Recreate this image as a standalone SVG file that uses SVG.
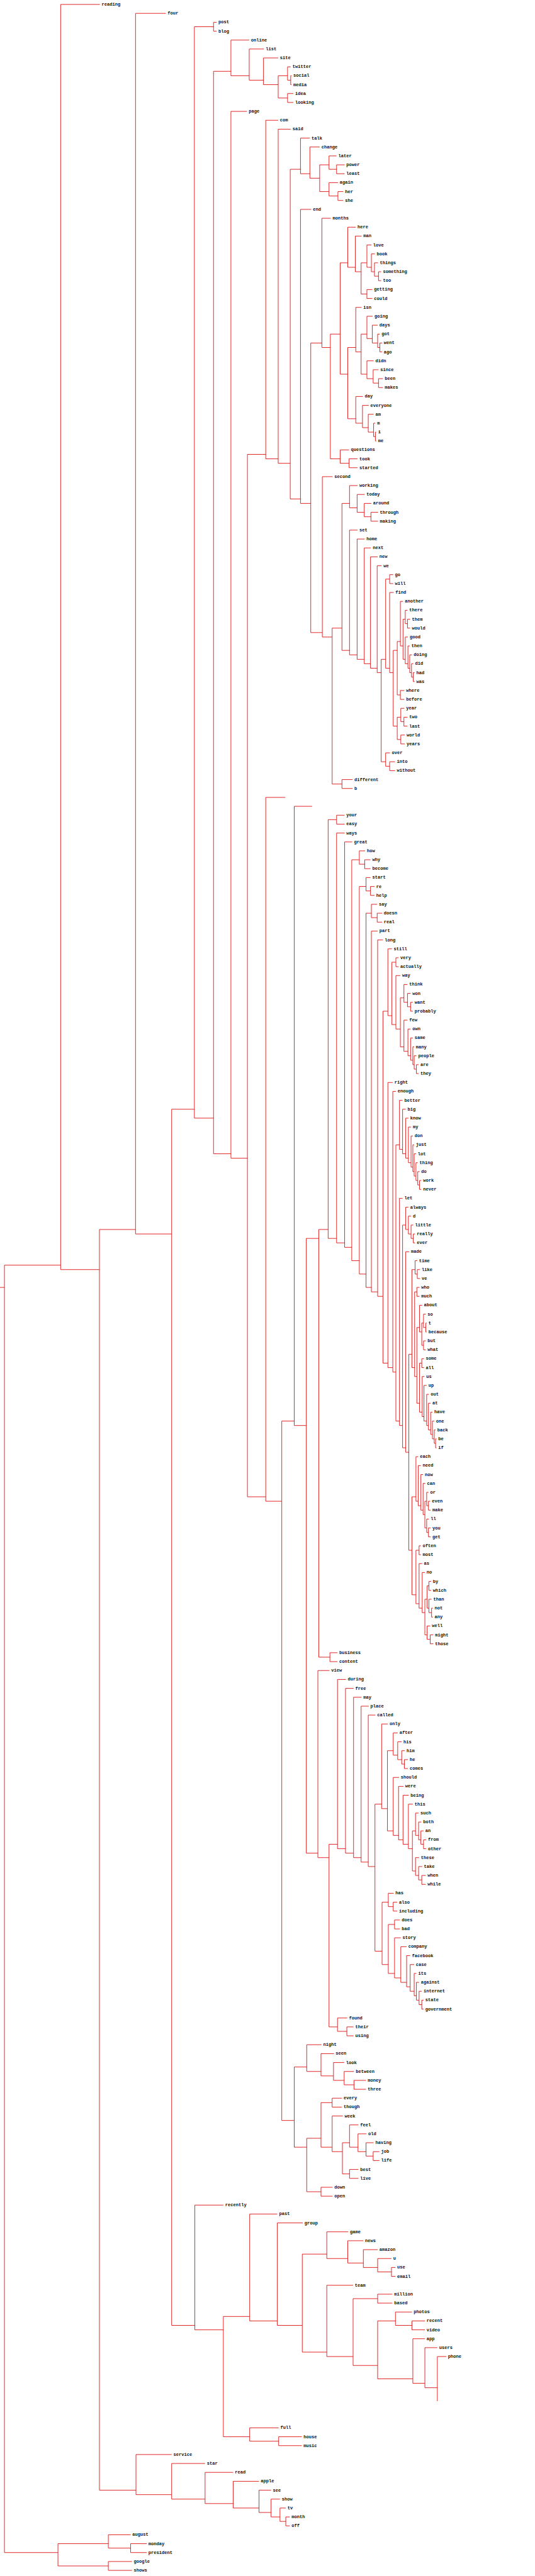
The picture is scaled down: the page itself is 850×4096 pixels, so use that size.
<svg xmlns="http://www.w3.org/2000/svg" width="850" height="4096" viewBox="0 0 850 4096">
<style>
text{font-family:"Liberation Mono","DejaVu Sans Mono",monospace;font-size:10px;font-weight:bold;fill:#111;dominant-baseline:central}
.c path{fill:none;stroke:#dd0000;stroke-width:1.2}
</style>
<rect width="850" height="4096" fill="#fff"/>
<g transform="scale(0.708333)">
<g id="connectors" class="c">
<path d="M0,2890H10"/>
<path d="M136,2840H10V5730H130"/>
<path d="M224,10H136V2850H223"/>
<path d="M304,2760H223V5590H305"/>
<path d="M372,30H304V2770H385"/>
<path d="M436,2490H385V5220H437"/>
<path d="M479,60H436V2510H479"/>
<path d="M518,160H479V2590H518"/>
<path d="M554,250H518V2600H555"/>
<path d="M596,1020H555V3360H596"/>
<path d="M640,1790H596V3370H632"/>
<path d="M660,3190H632V4760H660"/>
<path d="M700,1810H660V3200H687"/>
<path d="M715,2780H687V4160H713"/>
<path d="M736,2760H715V3720H740"/>
<path d="M688,4640H660V4820H688"/>
<path d="M486,50H479V70H486"/>
<path d="M654,170H652V190H654"/>
<path d="M652,150H645V180H652"/>
<path d="M658,210H645V230H658"/>
<path d="M645,170H624V220H645"/>
<path d="M624,130H591V190H624"/>
<path d="M592,110H559V180H591"/>
<path d="M559,90H518V170H559"/>
<path d="M773,370H755V390H773"/>
<path d="M755,350H738V380H755"/>
<path d="M770,430H758V450H770"/>
<path d="M758,410H738V440H758"/>
<path d="M738,370H717V430H738"/>
<path d="M717,330H695V400H717"/>
<path d="M695,310H674V390H695"/>
<path d="M855,610H849V630H855"/>
<path d="M848,590H840V620H849"/>
<path d="M841,570H833V610H840"/>
<path d="M833,550H823V600H833"/>
<path d="M835,650H823V670H835"/>
<path d="M823,590H810V660H823"/>
<path d="M811,530H797V610H810"/>
<path d="M798,510H780V600H797"/>
<path d="M857,770H852V790H857"/>
<path d="M852,750H847V780H852"/>
<path d="M847,730H835V770H847"/>
<path d="M836,710H823V760H835"/>
<path d="M859,850H849V870H859"/>
<path d="M849,830H837V860H849"/>
<path d="M838,810H823V850H837"/>
<path d="M823,750H810V840H823"/>
<path d="M811,690H798V790H810"/>
<path d="M844,970H842V990H844"/>
<path d="M842,950H838V980H842"/>
<path d="M838,930H826V970H838"/>
<path d="M827,910H813V960H826"/>
<path d="M814,890H798V950H813"/>
<path d="M798,780H780V940H798"/>
<path d="M780,590H763V840H780"/>
<path d="M802,1030H783V1050H802"/>
<path d="M783,1010H763V1040H783"/>
<path d="M763,750H741V1030H763"/>
<path d="M742,490H722V780H741"/>
<path d="M848,1150H832V1170H848"/>
<path d="M833,1130H817V1160H832"/>
<path d="M818,1110H801V1150H817"/>
<path d="M802,1090H784V1140H801"/>
<path d="M882,1290H874V1310H882"/>
<path d="M920,1390H914V1410H920"/>
<path d="M914,1370H909V1400H914"/>
<path d="M930,1510H927V1530H930"/>
<path d="M927,1490H923V1520H927"/>
<path d="M924,1470H919V1510H923"/>
<path d="M919,1450H915V1500H919"/>
<path d="M915,1430H909V1490H915"/>
<path d="M909,1390H904V1480H909"/>
<path d="M904,1350H898V1450H904"/>
<path d="M907,1550H898V1570H907"/>
<path d="M898,1440H891V1560H898"/>
<path d="M914,1610H906V1630H914"/>
<path d="M907,1590H899V1620H906"/>
<path d="M908,1650H899V1670H908"/>
<path d="M899,1610H891V1660H899"/>
<path d="M891,1460H882V1630H891"/>
<path d="M883,1330H874V1510H882"/>
<path d="M874,1300H865V1500H874"/>
<path d="M886,1710H874V1730H886"/>
<path d="M875,1690H865V1720H874"/>
<path d="M865,1480H855V1710H865"/>
<path d="M856,1270H846V1510H855"/>
<path d="M847,1250H831V1500H846"/>
<path d="M832,1230H817V1490H831"/>
<path d="M818,1210H801V1480H817"/>
<path d="M802,1190H784V1470H801"/>
<path d="M784,1130H767V1460H784"/>
<path d="M791,1750H767V1770H791"/>
<path d="M767,1410H745V1760H767"/>
<path d="M746,1070H723V1430H745"/>
<path d="M722,770H697V1420H723"/>
<path d="M698,470H674V1130H697"/>
<path d="M674,380H651V1120H674"/>
<path d="M652,290H624V1040H651"/>
<path d="M624,270H596V1030H624"/>
<path d="M773,1830H755V1850H773"/>
<path d="M831,1930H818V1950H831"/>
<path d="M819,1910H806V1940H818"/>
<path d="M840,1990H831V2010H840"/>
<path d="M831,1970H821V2000H831"/>
<path d="M857,2050H846V2070H857"/>
<path d="M846,2030H833V2060H846"/>
<path d="M894,2150H888V2170H894"/>
<path d="M926,2250H921V2270H926"/>
<path d="M921,2230H914V2260H921"/>
<path d="M914,2210H906V2250H914"/>
<path d="M939,2390H934V2410H939"/>
<path d="M934,2370H929V2400H934"/>
<path d="M929,2350H926V2390H929"/>
<path d="M926,2330H921V2380H926"/>
<path d="M921,2310H915V2370H921"/>
<path d="M914,2290H906V2360H915"/>
<path d="M906,2240H898V2350H906"/>
<path d="M898,2190H888V2310H898"/>
<path d="M888,2160H879V2300H888"/>
<path d="M879,2130H870V2280H879"/>
<path d="M945,2650H941V2670H945"/>
<path d="M941,2630H937V2660H941"/>
<path d="M937,2610H933V2650H937"/>
<path d="M933,2590H929V2640H933"/>
<path d="M929,2570H926V2630H929"/>
<path d="M926,2550H922V2620H926"/>
<path d="M922,2530H916V2610H922"/>
<path d="M916,2510H910V2600H916"/>
<path d="M910,2490H903V2590H910"/>
<path d="M903,2470H896V2580H903"/>
<path d="M931,2770H927V2790H931"/>
<path d="M927,2750H922V2780H927"/>
<path d="M922,2730H916V2770H922"/>
<path d="M916,2710H910V2760H916"/>
<path d="M942,2850H936V2870H942"/>
<path d="M936,2830H931V2860H936"/>
<path d="M941,2890H935V2910H941"/>
<path d="M957,2970H955V2990H957"/>
<path d="M955,2950H950V2980H955"/>
<path d="M955,3010H950V3030H955"/>
<path d="M950,2970H946V3020H950"/>
<path d="M947,2930H941V2990H946"/>
<path d="M951,3050H946V3070H951"/>
<path d="M979,3230H977V3250H979"/>
<path d="M977,3210H974V3240H977"/>
<path d="M974,3190H970V3230H974"/>
<path d="M970,3170H966V3220H970"/>
<path d="M966,3150H961V3210H966"/>
<path d="M962,3130H957V3200H961"/>
<path d="M957,3110H951V3190H957"/>
<path d="M952,3090H947V3180H951"/>
<path d="M946,3060H941V3170H947"/>
<path d="M941,2980H935V3150H941"/>
<path d="M935,2900H930V3090H935"/>
<path d="M931,2850H924V3070H930"/>
<path d="M965,3370H961V3390H966"/>
<path d="M961,3350H957V3380H961"/>
<path d="M966,3430H961V3450H966"/>
<path d="M962,3410H957V3440H961"/>
<path d="M957,3370H953V3430H957"/>
<path d="M954,3330H949V3400H953"/>
<path d="M949,3310H944V3390H949"/>
<path d="M944,3290H938V3380H944"/>
<path d="M938,3270H933V3370H938"/>
<path d="M944,3470H940V3490H944"/>
<path d="M967,3550H962V3570H967"/>
<path d="M971,3610H968V3630H971"/>
<path d="M968,3590H962V3620H968"/>
<path d="M962,3560H958V3610H962"/>
<path d="M972,3670H965V3690H972"/>
<path d="M965,3650H958V3680H965"/>
<path d="M958,3590H953V3670H958"/>
<path d="M953,3530H947V3620H953"/>
<path d="M947,3510H940V3610H947"/>
<path d="M940,3480H933V3600H940"/>
<path d="M933,3360H924V3580H933"/>
<path d="M924,3040H917V3480H924"/>
<path d="M918,2810H910V3260H917"/>
<path d="M910,2750H903V3250H910"/>
<path d="M903,2690H896V3200H903"/>
<path d="M896,2570H888V3190H896"/>
<path d="M888,2450H881V3080H888"/>
<path d="M881,2430H870V3070H881"/>
<path d="M870,2270H859V3060H870"/>
<path d="M859,2110H847V2910H859"/>
<path d="M847,2090H833V2900H847"/>
<path d="M833,2050H821V2890H833"/>
<path d="M821,1990H806V2860H821"/>
<path d="M806,1930H789V2830H806"/>
<path d="M790,1890H773V2800H789"/>
<path d="M773,1870H755V2790H773"/>
<path d="M755,1840H736V2780H755"/>
<path d="M757,3710H740V3730H757"/>
<path d="M915,3950H907V3970H915"/>
<path d="M908,3930H901V3960H907"/>
<path d="M901,3910H892V3950H901"/>
<path d="M892,3890H882V3940H892"/>
<path d="M956,4130H950V4150H956"/>
<path d="M950,4110H944V4140H950"/>
<path d="M945,4090H939V4130H944"/>
<path d="M939,4070H932V4120H939"/>
<path d="M955,4210H946V4230H955"/>
<path d="M947,4190H939V4220H946"/>
<path d="M940,4170H932V4210H939"/>
<path d="M932,4110H925V4200H932"/>
<path d="M926,4050H916V4150H925"/>
<path d="M917,4030H904V4140H916"/>
<path d="M905,4010H894V4130H904"/>
<path d="M895,3990H882V4120H894"/>
<path d="M882,3930H869V4110H882"/>
<path d="M870,3870H856V4060H869"/>
<path d="M891,4270H882V4290H891"/>
<path d="M883,4250H871V4280H882"/>
<path d="M897,4310H885V4330H897"/>
<path d="M950,4490H946V4510H950"/>
<path d="M946,4470H940V4500H946"/>
<path d="M940,4450H934V4490H940"/>
<path d="M934,4430H929V4480H934"/>
<path d="M929,4410H920V4470H929"/>
<path d="M920,4390H912V4460H920"/>
<path d="M912,4370H899V4450H912"/>
<path d="M899,4350H885V4440H899"/>
<path d="M885,4320H871V4430H885"/>
<path d="M871,4270H857V4410H871"/>
<path d="M856,4050H841V4380H857"/>
<path d="M842,3850H826V4190H841"/>
<path d="M827,3830H810V4180H826"/>
<path d="M811,3810H793V4170H810"/>
<path d="M793,3790H775V4160H793"/>
<path d="M776,3770H757V4150H775"/>
<path d="M793,4550H778V4570H793"/>
<path d="M779,4530H757V4560H778"/>
<path d="M757,4140H738V4550H757"/>
<path d="M739,3750H713V4170H738"/>
<path d="M821,4670H794V4690H821"/>
<path d="M794,4650H772V4680H794"/>
<path d="M772,4630H748V4670H772"/>
<path d="M749,4610H720V4660H748"/>
<path d="M721,4590H688V4650H720"/>
<path d="M767,4710H745V4730H767"/>
<path d="M851,4830H837V4850H851"/>
<path d="M838,4810H821V4840H837"/>
<path d="M822,4790H803V4830H821"/>
<path d="M804,4770H784V4820H803"/>
<path d="M804,4870H784V4890H804"/>
<path d="M784,4810H768V4880H784"/>
<path d="M769,4750H745V4830H768"/>
<path d="M745,4720H720V4820H745"/>
<path d="M746,4910H720V4930H746"/>
<path d="M720,4800H688V4920H720"/>
<path d="M887,5090H878V5110H887"/>
<path d="M878,5070H847V5100H878"/>
<path d="M847,5050H815V5090H847"/>
<path d="M815,5030H780V5080H815"/>
<path d="M781,5010H733V5070H780"/>
<path d="M880,5150H847V5170H880"/>
<path d="M953,5210H924V5230H953"/>
<path d="M924,5190H887V5220H924"/>
<path d="M1001,5290H981V5390"/>
<path d="M981,5270H953V5360H981"/>
<path d="M953,5250H926V5350H953"/>
<path d="M887,5210H847V5340H926"/>
<path d="M847,5160H792V5310H847"/>
<path d="M792,5130H733V5290H792"/>
<path d="M733,5060H678V5280H733"/>
<path d="M679,4990H622V5220H678"/>
<path d="M622,4970H560V5210H622"/>
<path d="M677,5470H625V5490H677"/>
<path d="M625,5450H560V5480H625"/>
<path d="M560,5200H501V5470H560"/>
<path d="M501,4950H437V5230H501"/>
<path d="M650,5650H641V5670H650"/>
<path d="M641,5630H628V5660H641"/>
<path d="M628,5610H608V5650H628"/>
<path d="M608,5590H581V5640H608"/>
<path d="M581,5570H523V5630H581"/>
<path d="M523,5550H460V5620H523"/>
<path d="M460,5530H385V5610H460"/>
<path d="M385,5510H305V5600H385"/>
<path d="M329,5710H293V5730H329"/>
<path d="M293,5690H243V5720H293"/>
<path d="M296,5750H243V5770H296"/>
<path d="M243,5710H130V5760H243"/>
</g>
<g id="labels">
<g id="l0"><text x="228" y="10">reading</text></g>
<g id="l1"><text x="376" y="30">four</text></g>
<g id="l2"><text x="490" y="50">post</text></g>
<g id="l3"><text x="490" y="70">blog</text></g>
<g id="l4"><text x="563" y="90">online</text></g>
<g id="l5"><text x="596" y="110">list</text></g>
<g id="l6"><text x="628" y="130">site</text></g>
<g id="l7"><text x="656" y="150">twitter</text></g>
<g id="l8"><text x="658" y="170">social</text></g>
<g id="l9"><text x="658" y="190">media</text></g>
<g id="l10"><text x="662" y="210">idea</text></g>
<g id="l11"><text x="662" y="230">looking</text></g>
<g id="l12"><text x="558" y="250">page</text></g>
<g id="l13"><text x="628" y="270">com</text></g>
<g id="l14"><text x="656" y="290">said</text></g>
<g id="l15"><text x="699" y="310">talk</text></g>
<g id="l16"><text x="721" y="330">change</text></g>
<g id="l17"><text x="759" y="350">later</text></g>
<g id="l18"><text x="777" y="370">power</text></g>
<g id="l19"><text x="777" y="390">least</text></g>
<g id="l20"><text x="762" y="410">again</text></g>
<g id="l21"><text x="774" y="430">her</text></g>
<g id="l22"><text x="774" y="450">she</text></g>
<g id="l23"><text x="702" y="470">end</text></g>
<g id="l24"><text x="746" y="490">months</text></g>
<g id="l25"><text x="802" y="510">here</text></g>
<g id="l26"><text x="815" y="530">man</text></g>
<g id="l27"><text x="837" y="550">love</text></g>
<g id="l28"><text x="845" y="570">book</text></g>
<g id="l29"><text x="852" y="590">things</text></g>
<g id="l30"><text x="859" y="610">something</text></g>
<g id="l31"><text x="859" y="630">too</text></g>
<g id="l32"><text x="839" y="650">getting</text></g>
<g id="l33"><text x="839" y="670">could</text></g>
<g id="l34"><text x="815" y="690">isn</text></g>
<g id="l35"><text x="840" y="710">going</text></g>
<g id="l36"><text x="851" y="730">days</text></g>
<g id="l37"><text x="856" y="750">got</text></g>
<g id="l38"><text x="861" y="770">went</text></g>
<g id="l39"><text x="861" y="790">ago</text></g>
<g id="l40"><text x="842" y="810">didn</text></g>
<g id="l41"><text x="853" y="830">since</text></g>
<g id="l42"><text x="863" y="850">been</text></g>
<g id="l43"><text x="863" y="870">makes</text></g>
<g id="l44"><text x="818" y="890">day</text></g>
<g id="l45"><text x="831" y="910">everyone</text></g>
<g id="l46"><text x="842" y="930">am</text></g>
<g id="l47"><text x="846" y="950">m</text></g>
<g id="l48"><text x="848" y="970">i</text></g>
<g id="l49"><text x="848" y="990">me</text></g>
<g id="l50"><text x="787" y="1010">questions</text></g>
<g id="l51"><text x="806" y="1030">took</text></g>
<g id="l52"><text x="806" y="1050">started</text></g>
<g id="l53"><text x="750" y="1070">second</text></g>
<g id="l54"><text x="806" y="1090">working</text></g>
<g id="l55"><text x="822" y="1110">today</text></g>
<g id="l56"><text x="837" y="1130">around</text></g>
<g id="l57"><text x="852" y="1150">through</text></g>
<g id="l58"><text x="852" y="1170">making</text></g>
<g id="l59"><text x="806" y="1190">set</text></g>
<g id="l60"><text x="822" y="1210">home</text></g>
<g id="l61"><text x="836" y="1230">next</text></g>
<g id="l62"><text x="851" y="1250">new</text></g>
<g id="l63"><text x="860" y="1270">we</text></g>
<g id="l64"><text x="886" y="1290">go</text></g>
<g id="l65"><text x="886" y="1310">will</text></g>
<g id="l66"><text x="887" y="1330">find</text></g>
<g id="l67"><text x="908" y="1350">another</text></g>
<g id="l68"><text x="918" y="1370">there</text></g>
<g id="l69"><text x="924" y="1390">them</text></g>
<g id="l70"><text x="924" y="1410">would</text></g>
<g id="l71"><text x="919" y="1430">good</text></g>
<g id="l72"><text x="923" y="1450">then</text></g>
<g id="l73"><text x="928" y="1470">doing</text></g>
<g id="l74"><text x="931" y="1490">did</text></g>
<g id="l75"><text x="934" y="1510">had</text></g>
<g id="l76"><text x="934" y="1530">was</text></g>
<g id="l77"><text x="911" y="1550">where</text></g>
<g id="l78"><text x="911" y="1570">before</text></g>
<g id="l79"><text x="911" y="1590">year</text></g>
<g id="l80"><text x="918" y="1610">two</text></g>
<g id="l81"><text x="918" y="1630">last</text></g>
<g id="l82"><text x="912" y="1650">world</text></g>
<g id="l83"><text x="912" y="1670">years</text></g>
<g id="l84"><text x="879" y="1690">over</text></g>
<g id="l85"><text x="890" y="1710">into</text></g>
<g id="l86"><text x="890" y="1730">without</text></g>
<g id="l87"><text x="795" y="1750">different</text></g>
<g id="l88"><text x="795" y="1770">b</text></g>
<g id="l91"><text x="777" y="1830">your</text></g>
<g id="l92"><text x="777" y="1850">easy</text></g>
<g id="l93"><text x="777" y="1870">ways</text></g>
<g id="l94"><text x="794" y="1890">great</text></g>
<g id="l95"><text x="823" y="1910">how</text></g>
<g id="l96"><text x="835" y="1930">why</text></g>
<g id="l97"><text x="835" y="1950">become</text></g>
<g id="l98"><text x="835" y="1970">start</text></g>
<g id="l99"><text x="844" y="1990">re</text></g>
<g id="l100"><text x="844" y="2010">help</text></g>
<g id="l101"><text x="850" y="2030">say</text></g>
<g id="l102"><text x="861" y="2050">doesn</text></g>
<g id="l103"><text x="861" y="2070">real</text></g>
<g id="l104"><text x="851" y="2090">part</text></g>
<g id="l105"><text x="863" y="2110">long</text></g>
<g id="l106"><text x="883" y="2130">still</text></g>
<g id="l107"><text x="898" y="2150">very</text></g>
<g id="l108"><text x="898" y="2170">actually</text></g>
<g id="l109"><text x="902" y="2190">way</text></g>
<g id="l110"><text x="918" y="2210">think</text></g>
<g id="l111"><text x="925" y="2230">won</text></g>
<g id="l112"><text x="930" y="2250">want</text></g>
<g id="l113"><text x="930" y="2270">probably</text></g>
<g id="l114"><text x="918" y="2290">few</text></g>
<g id="l115"><text x="925" y="2310">own</text></g>
<g id="l116"><text x="930" y="2330">same</text></g>
<g id="l117"><text x="933" y="2350">many</text></g>
<g id="l118"><text x="938" y="2370">people</text></g>
<g id="l119"><text x="943" y="2390">are</text></g>
<g id="l120"><text x="943" y="2410">they</text></g>
<g id="l121"><text x="885" y="2430">right</text></g>
<g id="l122"><text x="892" y="2450">enough</text></g>
<g id="l123"><text x="907" y="2470">better</text></g>
<g id="l124"><text x="914" y="2490">big</text></g>
<g id="l125"><text x="920" y="2510">know</text></g>
<g id="l126"><text x="926" y="2530">my</text></g>
<g id="l127"><text x="930" y="2550">don</text></g>
<g id="l128"><text x="933" y="2570">just</text></g>
<g id="l129"><text x="937" y="2590">lot</text></g>
<g id="l130"><text x="941" y="2610">thing</text></g>
<g id="l131"><text x="945" y="2630">do</text></g>
<g id="l132"><text x="949" y="2650">work</text></g>
<g id="l133"><text x="949" y="2670">never</text></g>
<g id="l134"><text x="907" y="2690">let</text></g>
<g id="l135"><text x="920" y="2710">always</text></g>
<g id="l136"><text x="926" y="2730">d</text></g>
<g id="l137"><text x="931" y="2750">little</text></g>
<g id="l138"><text x="935" y="2770">really</text></g>
<g id="l139"><text x="935" y="2790">ever</text></g>
<g id="l140"><text x="922" y="2810">made</text></g>
<g id="l141"><text x="940" y="2830">time</text></g>
<g id="l142"><text x="946" y="2850">like</text></g>
<g id="l143"><text x="946" y="2870">ve</text></g>
<g id="l144"><text x="945" y="2890">who</text></g>
<g id="l145"><text x="945" y="2910">much</text></g>
<g id="l146"><text x="951" y="2930">about</text></g>
<g id="l147"><text x="959" y="2950">so</text></g>
<g id="l148"><text x="961" y="2970">t</text></g>
<g id="l149"><text x="961" y="2990">because</text></g>
<g id="l150"><text x="959" y="3010">but</text></g>
<g id="l151"><text x="959" y="3030">what</text></g>
<g id="l152"><text x="955" y="3050">some</text></g>
<g id="l153"><text x="955" y="3070">all</text></g>
<g id="l154"><text x="956" y="3090">us</text></g>
<g id="l155"><text x="961" y="3110">up</text></g>
<g id="l156"><text x="966" y="3130">out</text></g>
<g id="l157"><text x="970" y="3150">at</text></g>
<g id="l158"><text x="974" y="3170">have</text></g>
<g id="l159"><text x="978" y="3190">one</text></g>
<g id="l160"><text x="981" y="3210">back</text></g>
<g id="l161"><text x="983" y="3230">be</text></g>
<g id="l162"><text x="983" y="3250">if</text></g>
<g id="l163"><text x="942" y="3270">each</text></g>
<g id="l164"><text x="948" y="3290">need</text></g>
<g id="l165"><text x="953" y="3310">now</text></g>
<g id="l166"><text x="958" y="3330">can</text></g>
<g id="l167"><text x="965" y="3350">or</text></g>
<g id="l168"><text x="969" y="3370">even</text></g>
<g id="l169"><text x="970" y="3390">make</text></g>
<g id="l170"><text x="966" y="3410">ll</text></g>
<g id="l171"><text x="970" y="3430">you</text></g>
<g id="l172"><text x="970" y="3450">get</text></g>
<g id="l173"><text x="948" y="3470">often</text></g>
<g id="l174"><text x="948" y="3490">most</text></g>
<g id="l175"><text x="951" y="3510">as</text></g>
<g id="l176"><text x="957" y="3530">no</text></g>
<g id="l177"><text x="971" y="3550">by</text></g>
<g id="l178"><text x="971" y="3570">which</text></g>
<g id="l179"><text x="972" y="3590">than</text></g>
<g id="l180"><text x="975" y="3610">not</text></g>
<g id="l181"><text x="975" y="3630">any</text></g>
<g id="l182"><text x="969" y="3650">well</text></g>
<g id="l183"><text x="976" y="3670">might</text></g>
<g id="l184"><text x="976" y="3690">those</text></g>
<g id="l185"><text x="761" y="3710">business</text></g>
<g id="l186"><text x="761" y="3730">content</text></g>
<g id="l187"><text x="743" y="3750">view</text></g>
<g id="l188"><text x="780" y="3770">during</text></g>
<g id="l189"><text x="797" y="3790">free</text></g>
<g id="l190"><text x="815" y="3810">may</text></g>
<g id="l191"><text x="831" y="3830">place</text></g>
<g id="l192"><text x="846" y="3850">called</text></g>
<g id="l193"><text x="874" y="3870">only</text></g>
<g id="l194"><text x="896" y="3890">after</text></g>
<g id="l195"><text x="905" y="3910">his</text></g>
<g id="l196"><text x="912" y="3930">him</text></g>
<g id="l197"><text x="919" y="3950">he</text></g>
<g id="l198"><text x="919" y="3970">comes</text></g>
<g id="l199"><text x="899" y="3990">should</text></g>
<g id="l200"><text x="909" y="4010">were</text></g>
<g id="l201"><text x="921" y="4030">being</text></g>
<g id="l202"><text x="930" y="4050">this</text></g>
<g id="l203"><text x="943" y="4070">such</text></g>
<g id="l204"><text x="949" y="4090">both</text></g>
<g id="l205"><text x="954" y="4110">an</text></g>
<g id="l206"><text x="960" y="4130">from</text></g>
<g id="l207"><text x="960" y="4150">other</text></g>
<g id="l208"><text x="944" y="4170">these</text></g>
<g id="l209"><text x="951" y="4190">take</text></g>
<g id="l210"><text x="959" y="4210">when</text></g>
<g id="l211"><text x="959" y="4230">while</text></g>
<g id="l212"><text x="887" y="4250">has</text></g>
<g id="l213"><text x="895" y="4270">also</text></g>
<g id="l214"><text x="895" y="4290">including</text></g>
<g id="l215"><text x="901" y="4310">does</text></g>
<g id="l216"><text x="901" y="4330">bad</text></g>
<g id="l217"><text x="903" y="4350">story</text></g>
<g id="l218"><text x="916" y="4370">company</text></g>
<g id="l219"><text x="924" y="4390">facebook</text></g>
<g id="l220"><text x="933" y="4410">case</text></g>
<g id="l221"><text x="938" y="4430">its</text></g>
<g id="l222"><text x="944" y="4450">against</text></g>
<g id="l223"><text x="950" y="4470">internet</text></g>
<g id="l224"><text x="954" y="4490">state</text></g>
<g id="l225"><text x="954" y="4510">government</text></g>
<g id="l226"><text x="783" y="4530">found</text></g>
<g id="l227"><text x="797" y="4550">their</text></g>
<g id="l228"><text x="797" y="4570">using</text></g>
<g id="l229"><text x="725" y="4590">night</text></g>
<g id="l230"><text x="753" y="4610">seen</text></g>
<g id="l231"><text x="776" y="4630">look</text></g>
<g id="l232"><text x="798" y="4650">between</text></g>
<g id="l233"><text x="825" y="4670">money</text></g>
<g id="l234"><text x="825" y="4690">three</text></g>
<g id="l235"><text x="771" y="4710">every</text></g>
<g id="l236"><text x="771" y="4730">though</text></g>
<g id="l237"><text x="773" y="4750">week</text></g>
<g id="l238"><text x="808" y="4770">feel</text></g>
<g id="l239"><text x="826" y="4790">old</text></g>
<g id="l240"><text x="842" y="4810">having</text></g>
<g id="l241"><text x="855" y="4830">job</text></g>
<g id="l242"><text x="855" y="4850">life</text></g>
<g id="l243"><text x="808" y="4870">best</text></g>
<g id="l244"><text x="808" y="4890">live</text></g>
<g id="l245"><text x="750" y="4910">down</text></g>
<g id="l246"><text x="750" y="4930">open</text></g>
<g id="l247"><text x="505" y="4950">recently</text></g>
<g id="l248"><text x="626" y="4970">past</text></g>
<g id="l249"><text x="683" y="4990">group</text></g>
<g id="l250"><text x="785" y="5010">game</text></g>
<g id="l251"><text x="819" y="5030">news</text></g>
<g id="l252"><text x="851" y="5050">amazon</text></g>
<g id="l253"><text x="882" y="5070">u</text></g>
<g id="l254"><text x="891" y="5090">use</text></g>
<g id="l255"><text x="891" y="5110">email</text></g>
<g id="l256"><text x="796" y="5130">team</text></g>
<g id="l257"><text x="884" y="5150">million</text></g>
<g id="l258"><text x="884" y="5170">based</text></g>
<g id="l259"><text x="928" y="5190">photos</text></g>
<g id="l260"><text x="957" y="5210">recent</text></g>
<g id="l261"><text x="957" y="5230">video</text></g>
<g id="l262"><text x="957" y="5250">app</text></g>
<g id="l263"><text x="985" y="5270">users</text></g>
<g id="l264"><text x="1005" y="5290">phone</text></g>
<g id="l272"><text x="629" y="5450">full</text></g>
<g id="l273"><text x="681" y="5470">house</text></g>
<g id="l274"><text x="681" y="5490">music</text></g>
<g id="l275"><text x="389" y="5510">service</text></g>
<g id="l276"><text x="464" y="5530">star</text></g>
<g id="l277"><text x="527" y="5550">read</text></g>
<g id="l278"><text x="585" y="5570">apple</text></g>
<g id="l279"><text x="612" y="5590">see</text></g>
<g id="l280"><text x="632" y="5610">show</text></g>
<g id="l281"><text x="645" y="5630">tv</text></g>
<g id="l282"><text x="654" y="5650">month</text></g>
<g id="l283"><text x="654" y="5670">off</text></g>
<g id="l284"><text x="297" y="5690">august</text></g>
<g id="l285"><text x="333" y="5710">monday</text></g>
<g id="l286"><text x="333" y="5730">president</text></g>
<g id="l287"><text x="300" y="5750">google</text></g>
<g id="l288"><text x="300" y="5770">shows</text></g>
</g>
</g>
</svg>
